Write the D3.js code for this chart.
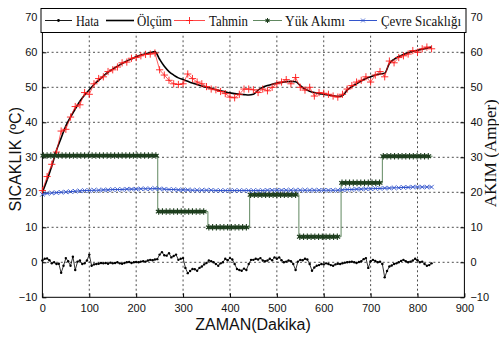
<!DOCTYPE html>
<html>
<head>
<meta charset="utf-8">
<script src="https://cdn.jsdelivr.net/npm/d3@7"></script>
<style>
  html, body { margin: 0; padding: 0; background: #fff; }
  svg { display: block; }
</style>
</head>
<body>
<div id="chart"></div>
<script>
// --- data ---
// Ölçüm / Tahmin / Çevre: one value every 10 min, 0..830
const olcum = [
  20.0, 23.5, 27.5, 32.0, 35.5, 39.0, 41.5, 43.8, 46.0, 47.8,
  49.3, 50.8, 52.0, 53.2, 54.3, 55.2, 56.0, 56.8, 57.5, 58.1,
  58.7, 59.2, 59.6, 59.9, 60.2, 58.0, 56.0, 54.5, 53.5, 52.7,
  52.2, 51.7, 51.2, 50.8, 50.4, 50.0, 49.7, 49.3, 49.0, 48.7,
  48.4, 48.2, 48.0, 47.9, 47.8, 48.0, 49.2, 50.0, 50.5, 50.9,
  51.2, 51.4, 51.6, 51.7, 51.6, 50.5, 49.5, 48.9, 48.5, 48.2,
  48.0, 47.8, 47.6, 47.4, 47.6, 49.2, 50.2, 51.0, 51.8, 52.5,
  53.0, 53.5, 53.8, 54.0, 56.8, 58.0, 58.8, 59.4, 59.9, 60.3,
  60.6, 60.9, 61.2, 61.5
];
const tahmin = [
  20.5, 24.5, 28.0, 31.5, 37.5, 38.0, 41.5, 44.5, 45.0, 48.5,
  48.0, 51.0, 52.5, 53.0, 54.5, 55.0, 55.8, 57.0, 57.2, 58.3,
  58.5, 59.0, 59.4, 59.5, 59.8, 55.0, 53.5, 52.0, 51.0, 50.8,
  51.0, 53.8, 52.5, 51.5, 51.0, 50.2, 49.5, 49.3, 48.8, 48.2,
  47.2, 47.0, 48.0, 49.5, 49.5, 49.3, 48.5, 49.5, 49.0, 50.0,
  51.0, 51.5, 52.2, 51.0, 52.8, 50.0, 49.2, 50.0, 47.5, 48.5,
  48.3, 48.0, 47.5, 47.2, 48.0, 49.5, 50.5, 51.5, 52.0, 53.0,
  51.5, 53.5, 54.5, 53.0, 57.5, 57.0, 58.5, 59.0, 59.5, 60.5,
  60.0, 61.0, 61.5, 61.0
];
const cevre = [
  19.4, 19.7, 19.8, 19.9, 20.0, 20.1, 20.2, 20.3, 20.4, 20.5,
  20.5, 20.6, 20.6, 20.7, 20.7, 20.8, 20.8, 20.8, 20.9, 20.9,
  20.9, 21.0, 21.0, 21.0, 21.1, 21.0, 20.9, 20.8, 20.8, 20.7,
  20.7, 20.7, 20.6, 20.6, 20.6, 20.6, 20.6, 20.5, 20.5, 20.5,
  20.5, 20.5, 20.5, 20.5, 20.5, 20.5, 20.5, 20.5, 20.6, 20.6,
  20.6, 20.6, 20.6, 20.6, 20.6, 20.6, 20.6, 20.6, 20.6, 20.6,
  20.6, 20.6, 20.6, 20.6, 20.7, 20.8, 20.8, 20.9, 20.9, 21.0,
  21.0, 21.1, 21.1, 21.2, 21.2, 21.3, 21.3, 21.4, 21.4, 21.5,
  21.5, 21.5, 21.5, 21.5
];
// Hata: one value every 5 min, 0..830
const hata = [
  0.5, 1.0, 1.1, 0.6, -0.3, 0.0, -0.5, -0.4, -3.0, -1.0,
  1.2, 0.3, -1.0, 1.6, -2.2, 0.2, 0.5, -0.5, -0.3, 0.5,
  2.2, -1.0, -0.6, -0.5, -0.4, -0.2, -0.3, -0.2, -0.4, -0.1,
  -0.3, -0.2, 0.0, -0.3, -0.4, -0.2, 0.0, 0.1, -0.2, 0.0,
  0.1, 0.0, 0.2, 0.3, 0.2, 0.5, 0.7, 0.6, 0.8, 0.9,
  2.2, 2.9, 2.0, 1.9, 2.6, 1.4, 1.8, 2.2, 0.7, 1.0,
  1.2, -1.6, -3.1, -2.5, -1.9, -2.0, -2.4, -1.6, -1.2, -0.6,
  -0.2, 0.5, 0.3, 0.0, -0.5, -1.0, -0.3, 0.0, 1.0, 0.6,
  1.2, 0.8, -0.5, -1.9, -2.2, -2.4, -1.8, -2.2, -0.5, 0.7,
  0.7, 1.0, 0.8, 1.2, 0.5, 0.3, 0.5, 1.0, 0.6, 1.4,
  1.0, 1.4, 0.6, 0.0, 0.2, 0.5, 0.3, -0.5, -2.2, 0.2,
  0.7, 0.6, 1.0, 0.8, -0.5, -2.4, -1.5, -1.0, -0.8, -0.5,
  -0.6, -0.3, -0.5, -0.8, -1.0, -0.6, -0.4, -0.5, -0.3, -0.1,
  0.0, 0.1, 0.2, 0.0, -0.2, 0.1, 0.3, 0.9, 1.2, -1.6,
  0.3, 0.7, 0.4, 0.0, 0.2, -0.5, -4.3, -2.5, -1.2, -0.9,
  -0.5, -0.3, 0.0, 0.4, 0.7, 0.3, 0.0, 0.2, 0.5, 1.0,
  0.6, 0.0, 0.2, -0.5, -1.0, -0.8, -0.3
];
// Yük Akımı: step levels and where they change (min)
const akimBreaks = [0, 246, 353, 442, 547, 637, 725, 832];
const akimLevels = [30.5, 14.5, 10.0, 19.3, 7.3, 22.7, 30.3];

const yTicks = [-10, 0, 10, 20, 30, 40, 50, 60, 70];
const xTicks = [0, 100, 200, 300, 400, 500, 600, 700, 800, 900];
const legendNames = ["Hata", "Ölçüm", "Tahmin", "Yük Akımı", "Çevre Sıcaklığı"];

// --- layout ---
const width = 499;
const height = 338;
const plot = { left: 42.4, right: 464.4, top: 17.3, bottom: 297.3 };

const colors = {
  hata: "#000",
  olcum: "#000",
  tahmin: "#ff1a1a",
  akimLine: "#4f7a4f",
  akimMark: "#1d3d1d",
  cevre: "#3355cc",
};

const xScale = d3.scaleLinear([0, 900], [plot.left, plot.right]);
const yScale = d3.scaleLinear([-10, 70], [plot.bottom, plot.top]);

const svg = d3
  .select("#chart")
  .append("svg")
  .attr("width", width)
  .attr("height", height)
  .attr("viewBox", `0 0 ${width} ${height}`);

const tickFont = "'Liberation Sans Narrow', 'Arial Narrow', 'Liberation Sans', Arial, sans-serif";

// grid (dotted)
const grid = svg.append("g").attr("stroke", "#222").attr("stroke-width", 0.8).attr("stroke-dasharray", "2,2.6");
grid
  .selectAll("line.gx")
  .data(xTicks.filter((d) => d > 0 && d < 900))
  .join("line")
  .attr("x1", (d) => xScale(d))
  .attr("x2", (d) => xScale(d))
  .attr("y1", plot.top)
  .attr("y2", plot.bottom);
grid
  .selectAll("line.gy")
  .data(yTicks.filter((d) => d > -10 && d < 70))
  .join("line")
  .attr("x1", plot.left)
  .attr("x2", plot.right)
  .attr("y1", (d) => yScale(d))
  .attr("y2", (d) => yScale(d));

// axes, MATLAB style ticks pointing inside
const styleAxis = (g) => {
  g.select(".domain").remove();
  g.selectAll(".tick line").attr("stroke", "#000");
  g.selectAll(".tick text")
    .attr("fill", "#111")
    .style("font-family", tickFont)
    .style("font-size", "11px");
};

svg
  .append("g")
  .attr("transform", `translate(${plot.left},0)`)
  .call(d3.axisLeft(yScale).tickValues(yTicks).tickSize(-4).tickPadding(5).tickFormat(d3.format("d")))
  .call(styleAxis);

svg
  .append("g")
  .attr("transform", `translate(${plot.right},0)`)
  .call(d3.axisRight(yScale).tickValues(yTicks).tickSize(-4).tickPadding(6).tickFormat(d3.format("d")))
  .call(styleAxis);

svg
  .append("g")
  .attr("transform", `translate(0,${plot.bottom})`)
  .call(d3.axisBottom(xScale).tickValues(xTicks).tickSize(-4).tickPadding(7).tickFormat(d3.format("d")))
  .call(styleAxis);

svg
  .append("rect")
  .attr("x", plot.left)
  .attr("y", plot.top)
  .attr("width", plot.right - plot.left)
  .attr("height", plot.bottom - plot.top)
  .attr("fill", "none")
  .attr("stroke", "#000")
  .attr("stroke-width", 1);

// series
const series = svg.append("g");
const line = d3
  .line()
  .x((d) => xScale(d[0]))
  .y((d) => yScale(d[1]));

const hataPts = hata.map((v, i) => [i * 5, v]);
const olcumPts = olcum.map((v, i) => [i * 10, v]);
const tahminPts = tahmin.map((v, i) => [i * 10, v]);
const cevrePts = cevre.map((v, i) => [i * 10, v]);

const akimPts = akimLevels.map((v, i) => [akimBreaks[i], v]);
akimPts.push([akimBreaks[akimBreaks.length - 1], akimLevels[akimLevels.length - 1]]);
const akimMarks = [];
akimLevels.forEach((v, i) => {
  for (let t = akimBreaks[i] + 2; t <= akimBreaks[i + 1] - 2; t += 8) akimMarks.push([t, v]);
});

const plusPath = (r) => `M${-r},0H${r}M0,${-r}V${r}`;
const timesPath = (r) => `M${-r},${-r}L${r},${r}M${-r},${r}L${r},${-r}`;
const asteriskPath = (r) => {
  let p = "";
  for (let k = 0; k < 3; k++) {
    const a = (Math.PI / 3) * k + Math.PI / 2;
    p += `M${r * Math.cos(a)},${r * Math.sin(a)}L${-r * Math.cos(a)},${-r * Math.sin(a)}`;
  }
  return p;
};

// Hata
series.append("path").attr("d", line(hataPts)).attr("fill", "none").attr("stroke", colors.hata).attr("stroke-width", 0.8);
series
  .append("g")
  .selectAll("circle")
  .data(hataPts)
  .join("circle")
  .attr("cx", (d) => xScale(d[0]))
  .attr("cy", (d) => yScale(d[1]))
  .attr("r", 1.2)
  .attr("fill", colors.hata);

// Ölçüm
series.append("path").attr("d", line.curve(d3.curveMonotoneX)(olcumPts)).attr("fill", "none").attr("stroke", colors.olcum).attr("stroke-width", 1.6);
line.curve(d3.curveLinear);

// Tahmin
series.append("path").attr("d", line(tahminPts)).attr("fill", "none").attr("stroke", colors.tahmin).attr("stroke-width", 0.7);
series
  .append("g")
  .selectAll("path")
  .data(tahminPts)
  .join("path")
  .attr("transform", (d) => `translate(${xScale(d[0])},${yScale(d[1])})`)
  .attr("d", plusPath(3.6))
  .attr("stroke", colors.tahmin)
  .attr("stroke-width", 0.9)
  .attr("fill", "none");

// Yük Akımı
series
  .append("path")
  .attr("d", line.curve(d3.curveStepAfter)(akimPts))
  .attr("fill", "none")
  .attr("stroke", colors.akimLine)
  .attr("stroke-width", 0.9);
line.curve(d3.curveLinear);
const akimG = series
  .append("g")
  .selectAll("g")
  .data(akimMarks)
  .join("g")
  .attr("transform", (d) => `translate(${xScale(d[0])},${yScale(d[1])})`);
akimG.append("circle").attr("r", 1.8).attr("fill", colors.akimMark);
akimG.append("path").attr("d", asteriskPath(3.3)).attr("stroke", colors.akimMark).attr("stroke-width", 1.1);

// Çevre Sıcaklığı
series.append("path").attr("d", line(cevrePts)).attr("fill", "none").attr("stroke", colors.cevre).attr("stroke-width", 1.1);
series
  .append("g")
  .selectAll("path")
  .data(cevrePts)
  .join("path")
  .attr("transform", (d) => `translate(${xScale(d[0])},${yScale(d[1])})`)
  .attr("d", timesPath(2.2))
  .attr("stroke", colors.cevre)
  .attr("stroke-width", 0.9);

// legend
const legend = svg.append("g");
legend
  .append("rect")
  .attr("x", 41)
  .attr("y", 8.5)
  .attr("width", 425)
  .attr("height", 24)
  .attr("fill", "#fff")
  .attr("stroke", "#000")
  .attr("stroke-width", 1);

const legendItems = [
  { x0: 45, x1: 72, tx: 76, tw: 23, stroke: colors.hata, sw: 0.9, mark: "dot" },
  { x0: 106, x1: 134, tx: 137, tw: 35, stroke: colors.olcum, sw: 1.6, mark: null },
  { x0: 174, x1: 205, tx: 209, tw: 39, stroke: colors.tahmin, sw: 0.8, mark: "plus" },
  { x0: 253, x1: 282, tx: 285, tw: 60, stroke: colors.akimLine, sw: 0.9, mark: "star" },
  { x0: 349, x1: 377, tx: 381, tw: 80, stroke: colors.cevre, sw: 1, mark: "times" },
];
const ly = 20.5;
legendItems.forEach((it, i) => {
  const g = legend.append("g");
  g.append("line").attr("x1", it.x0).attr("x2", it.x1).attr("y1", ly).attr("y2", ly).attr("stroke", it.stroke).attr("stroke-width", it.sw);
  const cx = (it.x0 + it.x1) / 2;
  if (it.mark === "dot") g.append("circle").attr("cx", cx).attr("cy", ly).attr("r", 1.4).attr("fill", it.stroke);
  if (it.mark === "plus") g.append("path").attr("transform", `translate(${cx},${ly})`).attr("d", plusPath(3.5)).attr("stroke", it.stroke).attr("stroke-width", 0.9);
  if (it.mark === "times") g.append("path").attr("transform", `translate(${cx},${ly})`).attr("d", timesPath(2)).attr("stroke", it.stroke).attr("stroke-width", 0.8);
  if (it.mark === "star") {
    g.append("circle").attr("cx", cx).attr("cy", ly).attr("r", 1.5).attr("fill", colors.akimMark);
    g.append("path").attr("transform", `translate(${cx},${ly})`).attr("d", asteriskPath(2.5)).attr("stroke", colors.akimMark).attr("stroke-width", 1);
  }
  g.append("text")
    .attr("x", it.tx)
    .attr("y", ly + 5.5)
    .attr("textLength", it.tw)
    .attr("lengthAdjust", "spacingAndGlyphs")
    .style("font-family", "'Liberation Serif', 'Times New Roman', serif")
    .style("font-size", "15px")
    .attr("fill", "#111")
    .text(legendNames[i]);
});

// axis titles
svg
  .append("text")
  .attr("transform", `translate(21,${(plot.top + plot.bottom) / 2 + 2}) rotate(-90)`)
  .attr("text-anchor", "middle")
  .style("font-family", "'Liberation Sans', Arial, sans-serif")
  .style("font-size", "16px")
  .attr("fill", "#111")
  .text("SICAKLIK (ºC)");

svg
  .append("text")
  .attr("transform", `translate(496,${(plot.top + plot.bottom) / 2 - 4}) rotate(-90)`)
  .attr("text-anchor", "middle")
  .style("font-family", "'Liberation Serif', 'Times New Roman', serif")
  .style("font-size", "17px")
  .attr("fill", "#111")
  .text("AKIM (Amper)");

svg
  .append("text")
  .attr("x", 253)
  .attr("y", 330)
  .attr("text-anchor", "middle")
  .style("font-family", "'Liberation Sans', Arial, sans-serif")
  .style("font-size", "16px")
  .attr("fill", "#111")
  .text("ZAMAN(Dakika)");
</script>
</body>
</html>
